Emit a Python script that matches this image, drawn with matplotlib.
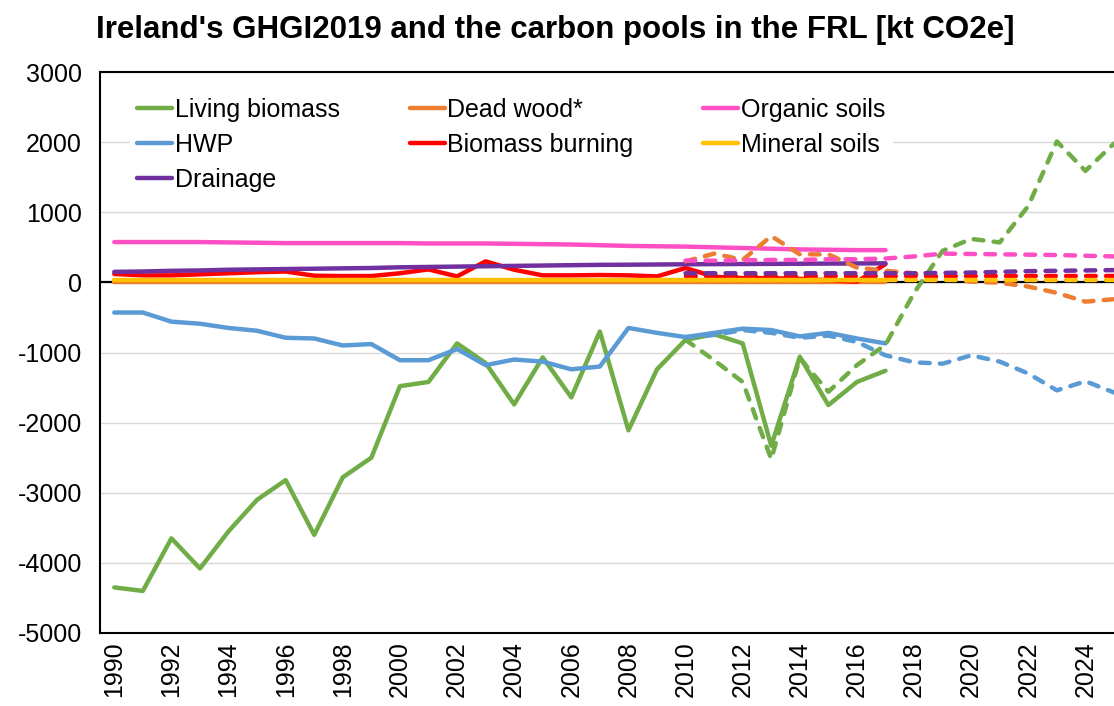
#!/usr/bin/env python3
"""plot.py
Ireland's GHGI2019 carbon pools (solid, 1990-2017) and the FRL projection
(dashed, 2010-2025), in kt CO2e.
"""
import matplotlib

matplotlib.use("Agg")
import matplotlib.pyplot as plt

# GHGI2019 series, 1990-2017
ghgi_years = list(range(1990, 2018))
living_biomass = [-4350, -4400, -3650, -4080, -3550, -3100, -2820, -3600, -2780, -2500,
                  -1480, -1420, -870, -1150, -1740, -1070, -1640, -700, -2110, -1240,
                  -820, -740, -870, -2330, -1060, -1750, -1420, -1260]
hwp = [-430, -430, -560, -590, -650, -690, -790, -800, -900, -880,
       -1110, -1110, -950, -1180, -1100, -1130, -1240, -1200, -650, -720,
       -780, -720, -660, -680, -770, -720, -800, -870]
drainage = [150, 155, 165, 170, 180, 185, 190, 195, 200, 205,
            215, 220, 225, 230, 235, 240, 245, 250, 252, 255,
            258, 260, 262, 264, 266, 268, 270, 272]
dead_wood = [10] * 28
biomass_burning = [120, 100, 100, 115, 130, 145, 155, 95, 90, 90,
                   130, 185, 85, 300, 180, 100, 100, 105, 100, 85,
                   205, 80, 60, 60, 50, 30, 10, 260]
organic_soils = [575, 575, 575, 575, 570, 565, 560, 560, 560, 560,
                 560, 555, 555, 555, 550, 545, 540, 530, 520, 515,
                 510, 500, 490, 480, 470, 465, 460, 460]
mineral_soils = [35] * 28

# FRL series, 2010-2025
frl_years = list(range(2010, 2026))
frl_living_biomass = [-820, -1110, -1420, -2520, -1080, -1560, -1180, -890,
                      -150, 450, 620, 570, 1090, 2010, 1590, 1980]
frl_hwp = [-780, -750, -680, -720, -790, -760, -850, -1040,
           -1140, -1160, -1040, -1130, -1300, -1540, -1410, -1570]
frl_drainage = [130, 130, 130, 130, 130, 130, 130, 130,
                130, 135, 140, 150, 160, 165, 170, 175]
frl_dead_wood = [300, 410, 320, 660, 400, 400, 210, 165,
                 130, 60, 10, -5, -60, -150, -275, -240]
frl_biomass_burning = [85] * 16
frl_organic_soils = [310, 310, 315, 320, 320, 330, 330, 340,
                     370, 410, 405, 400, 395, 390, 380, 370]
frl_mineral_soils = [30] * 16

labels = ["Living biomass", "HWP", "Drainage", "Dead wood*",
          "Biomass burning", "Organic soils", "Mineral soils"]
colors = ["#70AD47", "#5B9BD5", "#7030A0", "#ED7D31",
          "#FF0000", "#FF4FC4", "#FFC000"]

plt.rcParams["font.family"] = ["Liberation Sans", "DejaVu Sans"]
plt.rcParams["axes.unicode_minus"] = False


def plot_pools():
    """Draws the GHGI series as solid lines and the FRL as dashed lines."""
    fig = plt.figure(figsize=(11.14, 7.06), dpi=100)
    ax = fig.add_axes([100 / 1114, 1 - 633 / 706, 1 - 100 / 1114, (633 - 72) / 706])

    ghgi = [living_biomass, hwp, drainage, dead_wood,
            biomass_burning, organic_soils, mineral_soils]
    frl = [frl_living_biomass, frl_hwp, frl_drainage, frl_dead_wood,
           frl_biomass_burning, frl_organic_soils, frl_mineral_soils]

    # Grid and zero line
    ax.set_axisbelow(True)
    ax.grid(axis="y", color="#d9d9d9", lw=1)
    ax.axhline(0, color="black", lw=1.6, zorder=1.5)

    handles = []
    # Dead wood GHGI sits under the soils line, draw it first
    for i in [3, 0, 1, 5, 4, 2, 6]:
        (h,) = ax.plot(ghgi_years, ghgi[i], color=colors[i], lw=3.2,
                       solid_capstyle="round", solid_joinstyle="round",
                       label=labels[i], zorder=2)
        handles.append((i, h))
    for i in [0, 1, 3, 5, 4, 2, 6]:
        ax.plot(frl_years, frl[i], color=colors[i], lw=3.2, dashes=(2.2, 2.3),
                dash_capstyle="round", dash_joinstyle="round", zorder=3)

    handles = [h for _, h in sorted(handles)]
    leg = ax.legend(handles=handles, loc="upper left", ncol=3,
                    bbox_to_anchor=(0.017, 0.99), fontsize=18,
                    frameon=True, fancybox=False, edgecolor="none",
                    framealpha=1, handlelength=1.4, handletextpad=0.1,
                    columnspacing=2.8, labelspacing=0.45, borderpad=0.3)
    leg.set_zorder(5)

    ax.set_xlim(1989.5, 2025.0)
    ax.set_ylim(-5000, 3000)
    ax.set_yticks(range(-5000, 3001, 1000))
    ax.set_xticks(range(1990, 2025, 2))
    ax.tick_params(axis="x", labelrotation=90, labelsize=18, length=0, pad=6)
    ax.tick_params(axis="y", labelsize=18, length=0, pad=13)

    for side in ["left", "top", "bottom"]:
        ax.spines[side].set_color("black")
        ax.spines[side].set_linewidth(1.5)
    ax.spines["right"].set_visible(False)

    fig.text(0.498, 0.957, "Ireland's GHGI2019 and the carbon pools in the FRL [kt CO2e]",
             ha="center", va="center", fontsize=22.5, fontweight="bold")
    fig.savefig("out.png", dpi=100)


if __name__ == "__main__":
    plot_pools()
